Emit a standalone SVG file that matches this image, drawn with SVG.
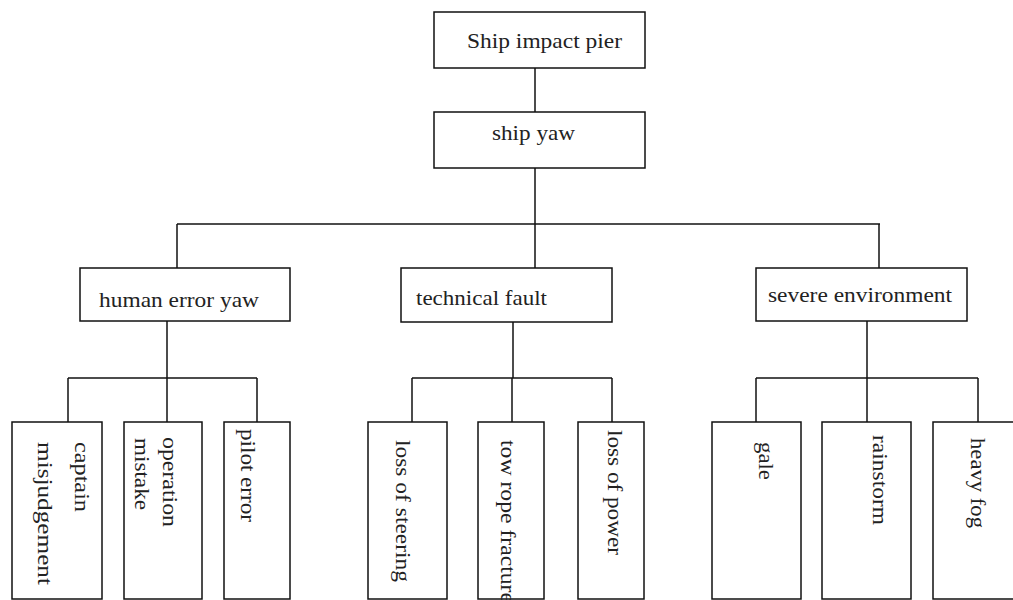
<svg xmlns="http://www.w3.org/2000/svg" width="1013" height="600" viewBox="0 0 1013 600">
<style>
rect{fill:#fff;stroke:#111;stroke-width:1.5}
.c line{stroke:#111;stroke-width:1.5}
text{font-family:"Liberation Serif","Times New Roman",serif;font-size:22px;fill:#222}
</style>
<rect x="0" y="0" width="1013" height="600" style="stroke:none"/>
<g class="c" id="connectors">
<line x1="535" y1="68" x2="535" y2="112"/>
<line x1="535" y1="168" x2="535" y2="224"/>
<line x1="177" y1="224" x2="880" y2="224"/>
<line x1="177" y1="224" x2="177" y2="268"/>
<line x1="535" y1="224" x2="535" y2="268"/>
<line x1="879" y1="224" x2="879" y2="268"/>
<line x1="167" y1="321" x2="167" y2="378"/>
<line x1="68" y1="378" x2="257" y2="378"/>
<line x1="68" y1="378" x2="68" y2="422"/>
<line x1="167" y1="378" x2="167" y2="422"/>
<line x1="257" y1="378" x2="257" y2="422"/>
<line x1="513" y1="322" x2="513" y2="378"/>
<line x1="412" y1="378" x2="612" y2="378"/>
<line x1="412" y1="378" x2="412" y2="422"/>
<line x1="512" y1="378" x2="512" y2="422"/>
<line x1="612" y1="378" x2="612" y2="422"/>
<line x1="867" y1="321" x2="867" y2="378"/>
<line x1="756" y1="378" x2="978" y2="378"/>
<line x1="756" y1="378" x2="756" y2="422"/>
<line x1="867" y1="378" x2="867" y2="422"/>
<line x1="978" y1="378" x2="978" y2="422"/>
</g>
<g id="n-ship-impact-pier"><rect x="434" y="12" width="211" height="56"/><text x="467" y="48" textLength="155" lengthAdjust="spacingAndGlyphs">Ship impact pier</text></g>
<g id="n-ship-yaw"><rect x="434" y="112" width="211" height="56"/><text x="492" y="140" textLength="83" lengthAdjust="spacingAndGlyphs">ship yaw</text></g>
<g id="n-human-error"><rect x="80" y="268" width="210" height="53"/><text x="99" y="307" textLength="160" lengthAdjust="spacingAndGlyphs">human error yaw</text></g>
<g id="n-technical-fault"><rect x="401" y="268" width="211" height="54"/><text x="416" y="305" textLength="131" lengthAdjust="spacingAndGlyphs">technical fault</text></g>
<g id="n-severe-env"><rect x="756" y="268" width="211" height="53"/><text x="768" y="302" textLength="184" lengthAdjust="spacingAndGlyphs">severe environment</text></g>
<g id="n-captain"><rect x="12" y="422" width="90" height="177"/><text transform="translate(75,442) rotate(90)" textLength="70" lengthAdjust="spacingAndGlyphs">captain</text><text transform="translate(38,442) rotate(90)" textLength="143" lengthAdjust="spacingAndGlyphs">misjudgement</text></g>
<g id="n-operation"><rect x="124" y="422" width="78" height="177"/><text transform="translate(163,437) rotate(90)" textLength="90" lengthAdjust="spacingAndGlyphs">operation</text><text transform="translate(135,438) rotate(90)" textLength="72" lengthAdjust="spacingAndGlyphs">mistake</text></g>
<g id="n-pilot"><rect x="224" y="422" width="66" height="177"/><text transform="translate(241,429) rotate(90)" textLength="93" lengthAdjust="spacingAndGlyphs">pilot error</text></g>
<g id="n-steering"><rect x="368" y="422" width="79" height="177"/><text transform="translate(396,440) rotate(90)" textLength="142" lengthAdjust="spacingAndGlyphs">loss of steering</text></g>
<g id="n-towrope"><rect x="478" y="422" width="66" height="177"/><text transform="translate(501,440) rotate(90)" textLength="163" lengthAdjust="spacingAndGlyphs">tow rope fracture</text></g>
<g id="n-power"><rect x="578" y="422" width="66" height="177"/><text transform="translate(608,430) rotate(90)" textLength="125" lengthAdjust="spacingAndGlyphs">loss of power</text></g>
<g id="n-gale"><rect x="712" y="422" width="89" height="177"/><text transform="translate(759,442) rotate(90)" textLength="38" lengthAdjust="spacingAndGlyphs">gale</text></g>
<g id="n-rainstorm"><rect x="822" y="422" width="89" height="177"/><text transform="translate(873,435) rotate(90)" textLength="90" lengthAdjust="spacingAndGlyphs">rainstorm</text></g>
<g id="n-heavyfog"><rect x="933" y="422" width="90" height="177"/><text transform="translate(971,438) rotate(90)" textLength="90" lengthAdjust="spacingAndGlyphs">heavy fog</text></g>
</svg>
